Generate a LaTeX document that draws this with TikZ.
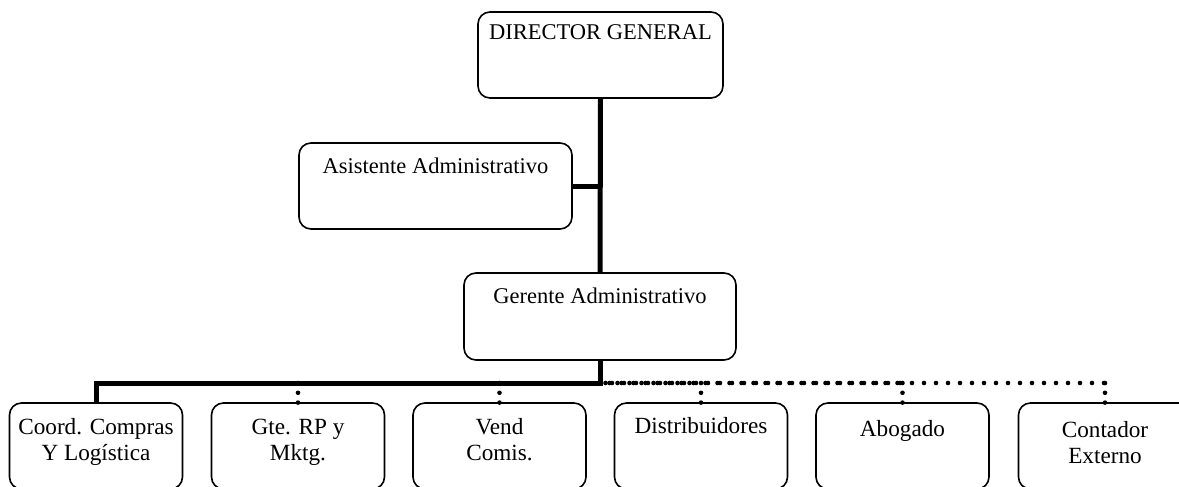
\documentclass[tikz,border=0pt]{standalone}
\usepackage{fontspec}
\setmainfont{Liberation Serif}
\newcommand{\bxt}[5]{\parbox[c][#2][t]{#1}{\centering\fontsize{#4}{26.5}\selectfont\rule{0pt}{#3}#5}}
\tikzset{
  orgbox/.style={draw, line width=1.6pt, rounded corners=12pt, inner sep=0pt, outer sep=0pt},
  solidlink/.style={line width=5pt},
  dotlink/.style={line width=4.6pt, line cap=round, dash pattern=on 0pt off 12pt},
  droplink/.style={line width=4.6pt, line cap=round, dash pattern=on 0pt off 9.8pt}
}
\begin{document}
\begin{tikzpicture}[x=1pt,y=-1pt]
\useasboundingbox (0,0) rectangle (1179,487);
\clip (0,0) rectangle (1179,487);
\node[orgbox] (dg) at (600.5,55) {\bxt{245pt}{86pt}{28pt}{22.5}{DIRECTOR GENERAL}};
\node[orgbox] (as) at (435.5,186) {\bxt{273pt}{86pt}{30pt}{22.5}{Asistente Administrativo}};
\node[orgbox] (ga) at (600,316.5) {\bxt{272pt}{87pt}{30pt}{22.5}{Gerente Administrativo}};
\node[orgbox] (b1) at (96,446) {\bxt{173pt}{86pt}{31pt}{23.2}{Coord. Compras\\Y Logística}};
\node[orgbox] (b2) at (298,446) {\bxt{173pt}{86pt}{31pt}{23.2}{Gte. RP y\\Mktg.}};
\node[orgbox] (b3) at (499.5,446) {\bxt{173pt}{86pt}{31pt}{23.2}{Vend\\Comis.}};
\node[orgbox] (b4) at (701,446) {\bxt{173pt}{86pt}{30pt}{23.2}{Distribuidores}};
\node[orgbox] (b5) at (902.5,446) {\bxt{173pt}{86pt}{33pt}{23.2}{Abogado}};
\node[orgbox] (b6) at (1105,446) {\bxt{173pt}{86pt}{34pt}{23.2}{Contador\\Externo}};
\coordinate (bus) at (ga.south |- 0,383);
% dotted links
\draw[dotlink] (bus) -- (b6.north |- bus);
\draw[dotlink, dash phase=2.5pt] (bus) -- (b5.north |- bus);
\draw[dotlink, dash phase=6.5pt] (bus) -- (b4.north |- bus);
\foreach \b in {b2,b3,b4,b5,b6}{
  \draw[droplink] (\b.north |- bus) -- (\b.north);
}
% solid links
\draw[solidlink] (dg.south) -- (ga.north);
\draw[solidlink] (as.east) -- (as.east -| dg.south);
\draw[solidlink] (ga.south) -- (bus) -| (b1.north);
\end{tikzpicture}
\end{document}
